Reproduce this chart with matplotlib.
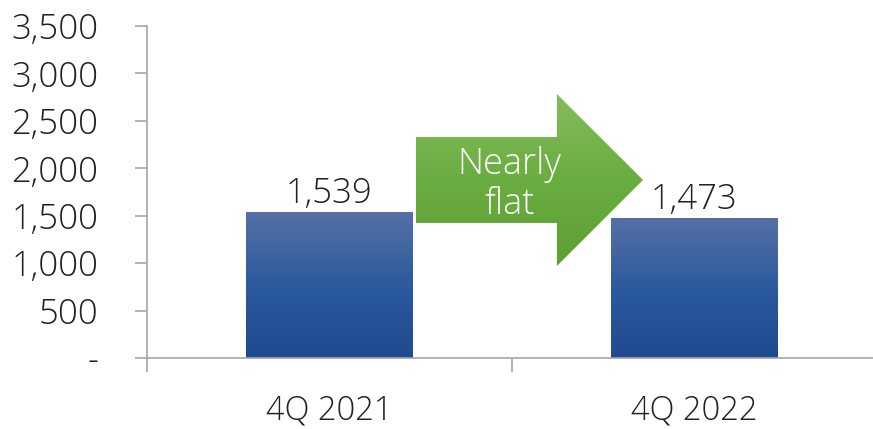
import numpy as np
import matplotlib.pyplot as plt
from matplotlib.patches import Polygon
from matplotlib.colors import LinearSegmentedColormap

categories = ["4Q 2021", "4Q 2022"]
values = [1539, 1473]
y_ticks = [0, 500, 1000, 1500, 2000, 2500, 3000, 3500]
y_labels = ["-" if t == 0 else f"{t:,}" for t in y_ticks]
arrow_text = "Nearly\nflat"

plt.rcParams['font.family'] = ['Open Sans', 'DejaVu Sans']
fig = plt.figure(figsize=(8.73, 4.29), dpi=100)
ax = fig.add_axes([147 / 873, 1 - 358 / 429, 730 / 873, 332 / 429])

bar_cmap = LinearSegmentedColormap.from_list("bar", ["#5570a6", "#2c5a9e", "#1f4a8f"])
arrow_cmap = LinearSegmentedColormap.from_list("arr", ["#86bc5c", "#6aad40", "#5e9f34"])
grad = np.linspace(0, 1, 256).reshape(-1, 1)

width = 0.455
x = np.arange(len(categories))
bars = ax.bar(x, values, width, color="none", edgecolor="none")
for b in bars:
    x0, y0 = b.get_x(), b.get_y()
    w, h = b.get_width(), b.get_height()
    im = ax.imshow(grad, cmap=bar_cmap, aspect="auto",
                   extent=[x0, x0 + w, y0, y0 + h], origin="upper", zorder=2)
    im.set_clip_path(b)

for xi, v in zip(x, values):
    ax.text(xi, v + 15, f"{v:,}", ha="center", va="bottom",
            fontsize=25, fontweight="light", color="#222222")

# green arrow between the bars
body_x0, body_x1, tip_x = 0.237, 0.623, 0.859
body_lo, body_hi = 1423, 2330
head_lo, head_hi, mid = 970, 2783, 1877
pts = [(body_x0, body_lo), (body_x0, body_hi), (body_x1, body_hi), (body_x1, head_hi),
       (tip_x, mid), (body_x1, head_lo), (body_x1, body_lo)]
arrow = Polygon(pts, closed=True, facecolor="none", edgecolor="none", zorder=3)
ax.add_patch(arrow)
im = ax.imshow(grad, cmap=arrow_cmap, aspect="auto",
               extent=[body_x0, tip_x, head_lo, head_hi], origin="upper", zorder=3)
im.set_clip_path(arrow)
ax.text(0.494, 1830, arrow_text, ha="center", va="center", color="white",
        fontsize=26, fontweight="light", linespacing=1.1, zorder=4)

ax.set_xlim(-0.5, 1.5)
ax.set_ylim(0, 3500)
ax.set_yticks(y_ticks)
ax.set_yticklabels(y_labels)
ax.set_xticks([-0.5, 0.5, 1.5])
ax.set_xticklabels([])
ax.set_xticks(x, minor=True)
ax.set_xticklabels(categories, minor=True)

for s in ["top", "right"]:
    ax.spines[s].set_visible(False)
for s in ["left", "bottom"]:
    ax.spines[s].set_color("#a6a6a6")
    ax.spines[s].set_linewidth(1.2)

ax.tick_params(axis="y", length=9, width=1.2, color="#a6a6a6", pad=26,
               labelsize=25, labelcolor="#222222")
ax.tick_params(axis="x", which="major", length=10, width=1.2, color="#a6a6a6")
ax.tick_params(axis="x", which="minor", length=0, pad=26,
               labelsize=23.5, labelcolor="#222222")
for lbl in ax.get_yticklabels() + ax.get_xticklabels(minor=True):
    lbl.set_fontweight("light")

fig.savefig("out.png", dpi=100)
